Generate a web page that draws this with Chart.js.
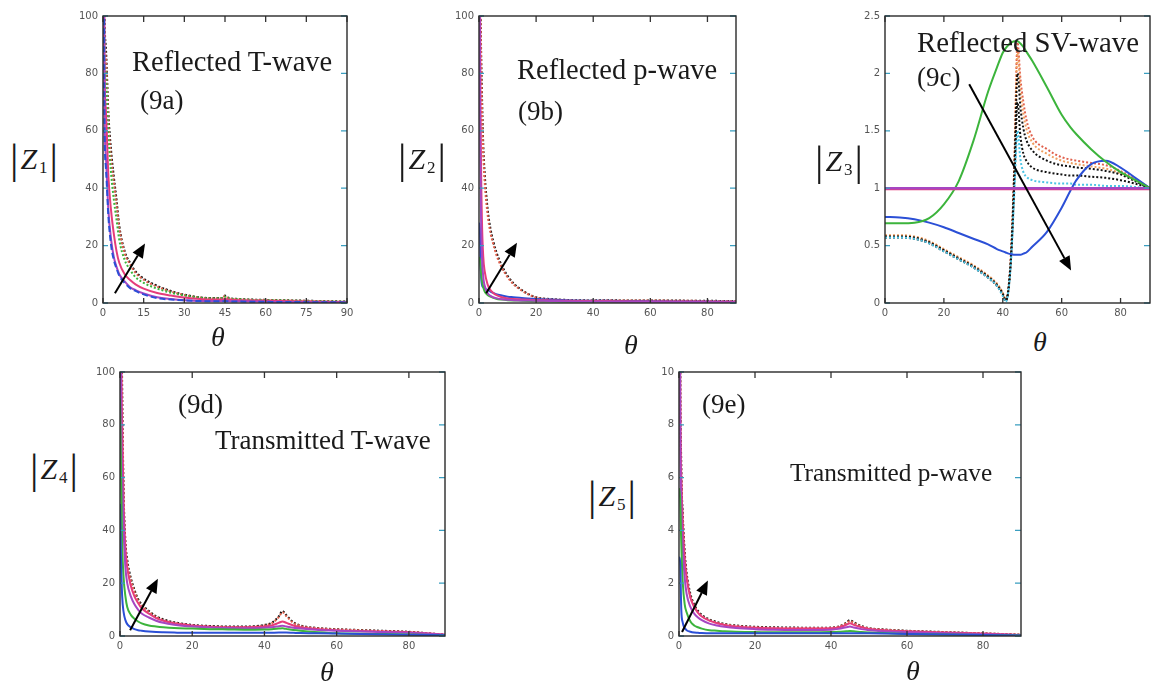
<!DOCTYPE html>
<html>
<head>
<meta charset="utf-8">
<script src="https://cdn.jsdelivr.net/npm/chart.js@4.4.1/dist/chart.umd.min.js"></script>
<style>
html, body { margin: 0; padding: 0; background: #fff; }
body { width: 1151px; height: 686px; position: relative; overflow: hidden; }
.panel { position: absolute; }
.lbl { position: absolute; font-family: "Liberation Serif", "Times New Roman", serif; color: #1a1a1a; line-height: 1; white-space: nowrap; }
.zl { position: absolute; font-family: "Liberation Serif", serif; color: #1a1a1a; line-height: 1; white-space: nowrap; display: flex; align-items: center; }
.zl .bar { font-size: 42px; }
.zl i { font-size: 30px; margin-left: 2px; }
.zl .sub { font-size: 17px; position: relative; top: 8px; margin-left: 2px; margin-right: 2px; }
.th { position: absolute; font-family: "Liberation Serif", serif; font-style: italic; font-size: 28px; line-height: 1; color: #1a1a1a; }
</style>
</head>
<body>

<canvas id="c1" class="panel"></canvas>
<canvas id="c2" class="panel"></canvas>
<canvas id="c3" class="panel"></canvas>
<canvas id="c4" class="panel"></canvas>
<canvas id="c5" class="panel"></canvas>

<!-- texte dans les graphes -->
<div class="lbl" style="left:132px;top:48px;font-size:28.5px">Reflected T-wave</div>
<div class="lbl" style="left:140px;top:87px;font-size:27px">(9a)</div>
<div class="lbl" style="left:517px;top:56px;font-size:28.5px">Reflected p-wave</div>
<div class="lbl" style="left:518px;top:98px;font-size:27px">(9b)</div>
<div class="lbl" style="left:917px;top:28px;font-size:28.8px">Reflected SV-wave</div>
<div class="lbl" style="left:917px;top:64px;font-size:27px">(9c)</div>
<div class="lbl" style="left:178px;top:391px;font-size:27px">(9d)</div>
<div class="lbl" style="left:215px;top:427px;font-size:27px">Transmitted T-wave</div>
<div class="lbl" style="left:702px;top:391px;font-size:27px">(9e)</div>
<div class="lbl" style="left:790px;top:460px;font-size:25.3px">Transmitted p-wave</div>

<!-- axes -->
<div class="zl" style="left:10px;top:138px"><span class="bar">|</span><i>Z</i><span class="sub">1</span><span class="bar">|</span></div>
<div class="zl" style="left:398px;top:138px"><span class="bar">|</span><i>Z</i><span class="sub">2</span><span class="bar">|</span></div>
<div class="zl" style="left:815px;top:140px"><span class="bar">|</span><i>Z</i><span class="sub">3</span><span class="bar">|</span></div>
<div class="zl" style="left:30px;top:448px"><span class="bar">|</span><i>Z</i><span class="sub">4</span><span class="bar">|</span></div>
<div class="zl" style="left:588px;top:475px"><span class="bar">|</span><i>Z</i><span class="sub">5</span><span class="bar">|</span></div>

<div class="th" style="left:211px;top:323px">θ</div>
<div class="th" style="left:624px;top:331px">θ</div>
<div class="th" style="left:1033px;top:328px">θ</div>
<div class="th" style="left:320px;top:658px">θ</div>
<div class="th" style="left:906px;top:657px">θ</div>

<script>
// angles d'incidence (degrés)
const thA = [0, 0.5, 1, 2, 3, 4, 5, 6, 8, 10, 12, 15, 20, 25, 30, 40, 44, 45, 46, 50, 60, 75, 90];
const thB = [0, 0.3, 0.6, 1, 1.5, 2, 3, 4, 5, 6, 8, 10, 12, 15, 20, 25, 30, 40, 45, 50, 60, 75, 90];
const thC = [0, 5, 10, 15, 20, 25, 30, 35, 38, 40, 41, 42, 43, 44, 45, 46, 47, 48, 50, 55, 60, 63, 65, 70, 75, 80, 85, 90];
const thFlat = [0, 90];
const thD = [0, 0.3, 0.6, 1, 1.5, 2, 3, 4, 5, 6, 8, 10, 12, 15, 20, 25, 30, 35, 40, 42, 44, 45, 46, 48, 50, 55, 60, 70, 80, 90];
const thE = [0, 0.3, 0.6, 1, 1.5, 2, 3, 4, 5, 6, 8, 10, 12, 15, 20, 25, 30, 35, 40, 42, 44, 45, 46, 48, 50, 55, 60, 70, 80, 90];

// |Z1| onde T réfléchie
const z1Blue    = [400, 70, 48, 30, 20, 15, 12, 9.5, 7, 5.2, 4.2, 3, 1.7, 1.2, 0.9, 0.6, 0.6, 0.7, 0.6, 0.5, 0.4, 0.3, 0.2];
const z1Magenta = [400, 75, 52, 32, 22, 16, 12.6, 10, 7.5, 5.5, 4.5, 3.3, 2, 1.4, 1, 0.7, 0.7, 0.8, 0.7, 0.6, 0.4, 0.3, 0.2];
const z1Pink    = [400, 90, 68, 44, 32, 24, 18, 14, 10, 8, 6.5, 5, 3.5, 2.6, 1.9, 1.2, 1.2, 1.4, 1.2, 1, 0.8, 0.5, 0.3];
const z1Green   = [400, 100, 80, 58, 45, 36, 29, 22, 15, 11.5, 9, 7, 5, 3.6, 2.6, 1.6, 1.7, 2.2, 1.7, 1.3, 1, 0.7, 0.4];
const z1Red     = [400, 105, 86, 63, 50, 42, 34, 26, 17.3, 13.4, 10.5, 8.1, 5.7, 4, 2.8, 1.6, 1.7, 2.4, 1.8, 1.3, 1, 0.75, 0.45];
const z1Black   = [400, 110, 90, 66, 53, 44, 36, 27, 18, 14, 11, 8.5, 6, 4.2, 2.9, 1.7, 1.8, 2.6, 1.9, 1.4, 1.1, 0.8, 0.5];

// |Z2| onde p réfléchie
const z2Blue    = [28, 26, 12, 6.5, 5.5, 5, 4.6, 4, 3.5, 3.1, 2.6, 2.2, 2, 1.7, 1.4, 1.2, 1, 0.8, 0.75, 0.7, 0.6, 0.5, 0.4];
const z2Green   = [16, 15, 12, 8, 5.5, 4, 2.8, 2.2, 1.8, 1.5, 1.2, 1, 0.9, 0.8, 0.6, 0.5, 0.45, 0.4, 0.4, 0.35, 0.3, 0.25, 0.2];
const z2Magenta = [400, 100, 40, 18, 9, 6, 3.5, 2.5, 2, 1.7, 1.3, 1.1, 1, 0.9, 0.8, 0.7, 0.6, 0.5, 0.5, 0.45, 0.4, 0.35, 0.3];
const z2Pink    = [400, 120, 60, 30, 16, 11, 6.5, 4.5, 3.5, 2.8, 2, 1.6, 1.4, 1.2, 1, 0.9, 0.8, 0.7, 0.7, 0.6, 0.55, 0.5, 0.4];
const z2Red     = [400, 140, 95, 70, 52, 42, 31, 24.5, 20.5, 17, 12.3, 9, 6.6, 4.3, 1.9, 1.3, 1, 0.85, 0.95, 0.85, 0.85, 0.75, 0.65];
const z2Black   = [400, 150, 100, 75, 55, 45, 33, 26, 21.5, 18, 13, 9.5, 7, 4.5, 2, 1.4, 1.1, 0.9, 1, 0.9, 0.9, 0.8, 0.7];

// |Z3| onde SV réfléchie
const z3Green   = [0.695, 0.695, 0.70, 0.74, 0.86, 1.06, 1.41, 1.84, 2.05, 2.18, 2.22, 2.25, 2.27, 2.28, 2.28, 2.26, 2.23, 2.19, 2.11, 1.88, 1.64, 1.53, 1.47, 1.34, 1.23, 1.14, 1.07, 1.0];
const z3Blue    = [0.75, 0.745, 0.73, 0.70, 0.66, 0.61, 0.56, 0.51, 0.47, 0.45, 0.44, 0.43, 0.425, 0.42, 0.42, 0.42, 0.43, 0.44, 0.49, 0.62, 0.83, 0.98, 1.07, 1.21, 1.24, 1.18, 1.09, 1.0];
const z3Magenta = [1.0, 1.0];
const z3Pink    = [0.99, 0.99];
const z3Red     = [0.58, 0.58, 0.57, 0.53, 0.46, 0.39, 0.32, 0.23, 0.16, 0.08, 0.02, 0.15, 0.55, 1.3, 2.27, 1.95, 1.75, 1.6, 1.45, 1.34, 1.27, 1.25, 1.24, 1.22, 1.2, 1.15, 1.08, 1.0];
const z3Orange  = [0.59, 0.59, 0.58, 0.54, 0.47, 0.40, 0.33, 0.24, 0.17, 0.09, 0.03, 0.14, 0.52, 1.25, 2.2, 1.85, 1.65, 1.52, 1.4, 1.3, 1.24, 1.22, 1.21, 1.19, 1.17, 1.13, 1.07, 1.0];
const z3Black1  = [0.58, 0.58, 0.57, 0.53, 0.46, 0.39, 0.32, 0.23, 0.16, 0.08, 0.02, 0.14, 0.5, 1.2, 2.0, 1.7, 1.52, 1.42, 1.33, 1.24, 1.2, 1.19, 1.18, 1.17, 1.15, 1.12, 1.06, 1.0];
const z3Black2  = [0.57, 0.57, 0.56, 0.52, 0.45, 0.38, 0.31, 0.22, 0.15, 0.07, 0.02, 0.13, 0.48, 1.1, 1.75, 1.45, 1.3, 1.24, 1.18, 1.14, 1.12, 1.11, 1.11, 1.1, 1.09, 1.07, 1.04, 1.0];
const z3Cyan    = [0.57, 0.57, 0.56, 0.52, 0.45, 0.38, 0.31, 0.22, 0.15, 0.06, 0.01, 0.12, 0.45, 1.0, 1.5, 1.25, 1.14, 1.1, 1.07, 1.05, 1.04, 1.04, 1.03, 1.03, 1.02, 1.02, 1.01, 1.0];

// |Z4| onde T transmise
const z4Blue    = [50, 28, 15, 9, 6, 4.5, 3.3, 2.6, 2.2, 2, 1.7, 1.5, 1.4, 1.3, 1.2, 1.2, 1.2, 1.2, 1.2, 1.25, 1.3, 1.3, 1.3, 1.2, 1.1, 1, 0.9, 0.7, 0.5, 0.3];
const z4Green   = [90, 60, 35, 22, 15, 11, 8, 6.5, 5.5, 4.8, 4, 3.6, 3.3, 3, 2.8, 2.6, 2.5, 2.4, 2.5, 2.6, 2.8, 2.9, 2.7, 2.3, 2, 1.4, 1, 0.8, 0.6, 0.3];
const z4Magenta = [400, 100, 60, 40, 26, 20, 15, 12, 10, 8.5, 7, 5.8, 5, 4.3, 3.6, 3.2, 3, 2.9, 3.1, 3.3, 3.7, 3.9, 3.6, 3.1, 2.8, 2.3, 2, 1.6, 1.2, 0.5];
const z4Pink    = [400, 130, 80, 50, 33, 26, 19, 15, 12.5, 10.5, 8.5, 6.8, 5.8, 4.8, 4, 3.5, 3.3, 3.3, 3.6, 4, 5, 5.5, 5, 4, 3.3, 2.6, 2.2, 1.8, 1.4, 0.5];
const z4Red     = [400, 140, 90, 52, 34, 27.5, 21, 16.8, 13.4, 11.5, 9.1, 7.2, 6, 5, 4, 3.6, 3.45, 3.45, 4, 4.8, 7.2, 9, 7.6, 5, 3.8, 2.9, 2.5, 2, 1.5, 0.5];
const z4Black   = [400, 150, 95, 55, 36, 29, 22, 17.5, 14, 12, 9.5, 7.5, 6.3, 5.2, 4.2, 3.8, 3.6, 3.6, 4.2, 5, 7.5, 9.5, 8, 5.2, 4, 3, 2.6, 2.1, 1.6, 0.5];

// |Z5| onde p transmise
const z5Blue    = [3, 2.8, 1, 0.5, 0.3, 0.22, 0.16, 0.13, 0.12, 0.11, 0.1, 0.1, 0.1, 0.1, 0.1, 0.1, 0.1, 0.1, 0.1, 0.1, 0.1, 0.1, 0.1, 0.1, 0.1, 0.09, 0.08, 0.06, 0.04, 0.02];
const z5Green   = [5.6, 5.2, 3.5, 2, 1.2, 0.9, 0.55, 0.4, 0.33, 0.28, 0.22, 0.2, 0.18, 0.16, 0.15, 0.14, 0.14, 0.14, 0.15, 0.16, 0.18, 0.19, 0.18, 0.15, 0.13, 0.1, 0.08, 0.06, 0.04, 0.02];
const z5Magenta = [30, 9, 5, 3.3, 2.2, 1.6, 1.1, 0.85, 0.7, 0.6, 0.47, 0.4, 0.35, 0.3, 0.26, 0.24, 0.23, 0.23, 0.24, 0.27, 0.33, 0.36, 0.32, 0.26, 0.22, 0.17, 0.14, 0.1, 0.07, 0.03];
const z5Pink    = [40, 10, 6, 4.2, 2.9, 2.2, 1.45, 1.1, 0.88, 0.74, 0.58, 0.48, 0.42, 0.36, 0.31, 0.29, 0.28, 0.28, 0.29, 0.32, 0.42, 0.48, 0.42, 0.33, 0.27, 0.21, 0.18, 0.13, 0.09, 0.04];
const z5Red     = [38, 11.4, 6.2, 4.4, 3, 2.3, 1.5, 1.15, 0.9, 0.76, 0.6, 0.5, 0.44, 0.38, 0.33, 0.31, 0.3, 0.3, 0.31, 0.35, 0.48, 0.57, 0.5, 0.36, 0.29, 0.23, 0.19, 0.14, 0.1, 0.05];
const z5Black   = [40, 12, 6.5, 4.6, 3.2, 2.4, 1.6, 1.2, 0.95, 0.8, 0.63, 0.53, 0.46, 0.4, 0.35, 0.33, 0.32, 0.31, 0.32, 0.36, 0.5, 0.6, 0.52, 0.38, 0.3, 0.24, 0.2, 0.15, 0.1, 0.05];

const BLUE = '#2b4fd6', GREEN = '#3cb43c', MAGENTA = '#a646c2', PINK = '#e63c7a';
const RED = '#e0604c', ORANGE = '#f0a060', CYAN = '#4cc4e4', BLACK = '#111111';
const DOT = [2, 2];

function line(theta, vals, color, dash, width) {
    return {
        data: theta.map((t, i) => ({ x: t, y: vals[i] })),
        borderColor: color,
        borderDash: dash || [],
        borderWidth: width || 2,
        pointRadius: 0,
        fill: false,
        cubicInterpolationMode: 'monotone'
    };
}

// cadre, petites graduations intérieures et flèche (en coordonnées des données)
const framePlugin = {
    id: 'frame',
    afterDatasetsDraw(chart, args, opts) {
        const { ctx, chartArea: a, scales: { x, y } } = chart;
        ctx.save();
        ctx.lineWidth = 1.3;
        ctx.strokeStyle = '#333';
        x.ticks.forEach(t => {
            const px = x.getPixelForValue(t.value);
            ctx.beginPath();
            ctx.moveTo(px, a.top); ctx.lineTo(px, a.top + 6);
            ctx.moveTo(px, a.bottom); ctx.lineTo(px, a.bottom - 5);
            ctx.stroke();
        });
        ctx.strokeStyle = '#3a9ec0';
        y.ticks.forEach(t => {
            const py = y.getPixelForValue(t.value);
            ctx.beginPath();
            ctx.moveTo(a.right, py); ctx.lineTo(a.right - 6, py);
            ctx.moveTo(a.left, py); ctx.lineTo(a.left + 5, py);
            ctx.stroke();
        });
        ctx.strokeStyle = '#2a2a2a';
        ctx.lineWidth = 1.4;
        ctx.strokeRect(a.left, a.top, a.right - a.left, a.bottom - a.top);

        if (opts.arrow) {
            const [t0, v0, t1, v1] = opts.arrow;
            const x0 = x.getPixelForValue(t0), y0 = y.getPixelForValue(v0);
            const x1 = x.getPixelForValue(t1), y1 = y.getPixelForValue(v1);
            const ang = Math.atan2(y1 - y0, x1 - x0);
            const hl = 14, hw = 6;
            const bx = x1 - hl * Math.cos(ang), by = y1 - hl * Math.sin(ang);
            ctx.strokeStyle = '#000';
            ctx.fillStyle = '#000';
            ctx.lineWidth = 2;
            ctx.beginPath();
            ctx.moveTo(x0, y0); ctx.lineTo(bx, by);
            ctx.stroke();
            ctx.beginPath();
            ctx.moveTo(x1, y1);
            ctx.lineTo(bx + hw * Math.sin(ang), by - hw * Math.cos(ang));
            ctx.lineTo(bx - hw * Math.sin(ang), by + hw * Math.cos(ang));
            ctx.closePath();
            ctx.fill();
        }
        ctx.restore();
    }
};

const AXW = 34, AXH = 22, PADT = 8, PADR = 14;

function makePanel(id, box, datasets, yMax, yStep, xStep, arrow) {
    const cv = document.getElementById(id);
    cv.width = box.R - box.L + AXW + PADR;
    cv.height = box.B - box.T + PADT + AXH;
    cv.style.left = (box.L - AXW) + 'px';
    cv.style.top = (box.T - PADT) + 'px';
    const tickFont = { family: 'DejaVu Sans', size: 10 };
    new Chart(cv, {
        type: 'line',
        data: { datasets },
        options: {
            responsive: false,
            animation: false,
            layout: { padding: { top: PADT, right: PADR, left: 0, bottom: 0 } },
            plugins: { legend: { display: false }, tooltip: { enabled: false }, frame: { arrow } },
            scales: {
                x: {
                    type: 'linear', min: 0, max: 90,
                    grid: { display: false, drawTicks: false },
                    border: { display: false },
                    ticks: { stepSize: xStep, includeBounds: false, maxRotation: 0, font: tickFont, color: '#555', padding: 4 },
                    afterFit: s => { s.height = AXH; }
                },
                y: {
                    min: 0, max: yMax,
                    grid: { display: false, drawTicks: false },
                    border: { display: false },
                    ticks: { stepSize: yStep, font: tickFont, color: '#555', padding: 5, callback: v => String(v) },
                    afterFit: s => { s.width = AXW; }
                }
            }
        },
        plugins: [framePlugin]
    });
}

makePanel('c1', { L: 103, T: 13, R: 347, B: 303 }, [
    line(thA, z1Blue, BLUE, [6, 3]),
    line(thA, z1Magenta, MAGENTA),
    line(thA, z1Pink, PINK),
    line(thA, z1Green, GREEN, DOT),
    line(thA, z1Red, RED, DOT),
    line(thA, z1Black, BLACK, DOT)
], 100, 20, 15, [4.4, 3.4, 15.5, 20.7]);

makePanel('c2', { L: 479, T: 13, R: 736, B: 303 }, [
    line(thB, z2Magenta, MAGENTA),
    line(thB, z2Pink, PINK),
    line(thB, z2Green, GREEN),
    line(thB, z2Blue, BLUE),
    line(thB, z2Red, RED, DOT),
    line(thB, z2Black, BLACK, DOT)
], 100, 20, 20, [2.5, 3.4, 13.3, 21]);

makePanel('c3', { L: 885, T: 13, R: 1150, B: 303 }, [
    line(thFlat, z3Magenta, MAGENTA, [], 2.5),
    line(thFlat, z3Pink, PINK, [], 2),
    line(thC, z3Green, GREEN),
    line(thC, z3Blue, BLUE),
    line(thC, z3Cyan, CYAN, DOT),
    line(thC, z3Black2, BLACK, DOT),
    line(thC, z3Black1, BLACK, DOT),
    line(thC, z3Orange, ORANGE, DOT),
    line(thC, z3Red, RED, DOT)
], 2.5, 0.5, 20, [28.6, 1.905, 63.2, 0.284]);

makePanel('c4', { L: 120, T: 369, R: 445, B: 636 }, [
    line(thD, z4Blue, BLUE),
    line(thD, z4Green, GREEN),
    line(thD, z4Magenta, MAGENTA),
    line(thD, z4Pink, PINK),
    line(thD, z4Red, RED, DOT),
    line(thD, z4Black, BLACK, DOT)
], 100, 20, 20, [2.8, 2.2, 10.5, 21.7]);

makePanel('c5', { L: 679, T: 369, R: 1021, B: 636 }, [
    line(thE, z5Blue, BLUE),
    line(thE, z5Green, GREEN),
    line(thE, z5Magenta, MAGENTA),
    line(thE, z5Pink, PINK),
    line(thE, z5Red, RED, DOT),
    line(thE, z5Black, BLACK, DOT)
], 10, 2, 20, [0.8, 0.15, 7.6, 2.1]);
</script>
</body>
</html>
